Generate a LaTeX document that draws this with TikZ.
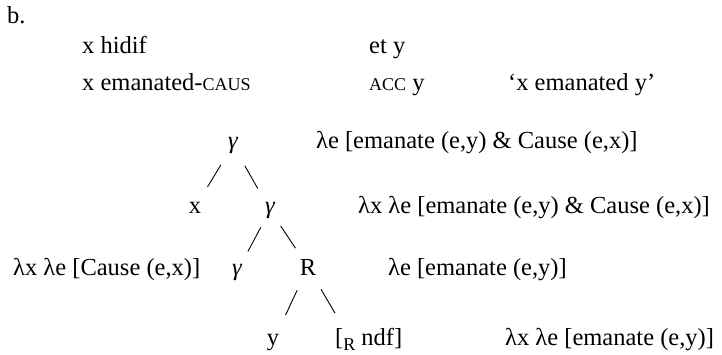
\documentclass[tikz,border=0pt]{standalone}
\usepackage{fontspec}
\setmainfont{Liberation Serif}
\usetikzlibrary{calc}
\newcommand\mysc[1]{{\fontsize{18bp}{20bp}\selectfont #1}}
\newcommand\mysub[1]{\raisebox{-5bp}{\fontsize{18bp}{20bp}\selectfont #1}}
\begin{document}
\begin{tikzpicture}[x=1bp,y=-1bp,
  txt/.style={anchor=base west,inner sep=0pt,font=\fontsize{24.5bp}{28bp}\selectfont},
  tnode/.style={anchor=base,inner sep=0pt,font=\fontsize{24.5bp}{28bp}\selectfont},
  branch/.style={line width=0.9bp}]
\useasboundingbox[fill=white] (0,0) rectangle (722,354);
% header lines
\node[txt] (b) at (7,23) {b.};
\node[txt] (l1a) at (82,53) {x hidif};
\node[txt] (l1b) at (369,53) {et y};
\node[txt] (l2a) at (82,90) {x emanated-\mysc{CAUS}};
\node[txt] (l2b) at (369,90) {\mysc{ACC} y};
\node[txt] (l2c) at (508,90) {‘x emanated y’};
% tree
\node[tnode] (g1) at (233,148) {\itshape γ};
\node[txt] (sem1) at (316,148) {λe [emanate (e,y) \& Cause (e,x)]};
\node[tnode] (xx) at (195,213) {x};
\node[tnode] (g2) at (270,213) {\itshape γ};
\node[txt] (sem2) at (358,213) {λx λe [emanate (e,y) \& Cause (e,x)]};
\node[txt] (semc) at (13,275) {λx λe [Cause (e,x)]};
\node[tnode] (g3) at (237,275) {\itshape γ};
\node[tnode] (R) at (308,275) {R};
\node[txt] (sem3) at (388,275) {λe [emanate (e,y)]};
\node[tnode] (yy) at (273,345) {y};
\node[txt] (ndf) at (335,345) {[\mysub{R} ndf]};
\node[txt] (sem4) at (505,345) {λx λe [emanate (e,y)]};
\coordinate (ndfc) at ($(ndf.west)+(15,0)$);
% branches
\draw[branch] ($(g1)!0.32!(xx)$) -- ($(g1)!0.67!(xx)$);
\draw[branch] ($(g1)!0.32!(g2)$) -- ($(g1)!0.67!(g2)$);
\draw[branch] ($(g2)!0.28!(g3)$) -- ($(g2)!0.67!(g3)$);
\draw[branch] ($(g2)!0.28!(R)$) -- ($(g2)!0.67!(R)$);
\draw[branch] ($(R)!0.31!(yy)$) -- ($(R)!0.64!(yy)$);
\draw[branch] ($(R)!0.31!(ndfc)$) -- ($(R)!0.64!(ndfc)$);
\end{tikzpicture}
\end{document}
